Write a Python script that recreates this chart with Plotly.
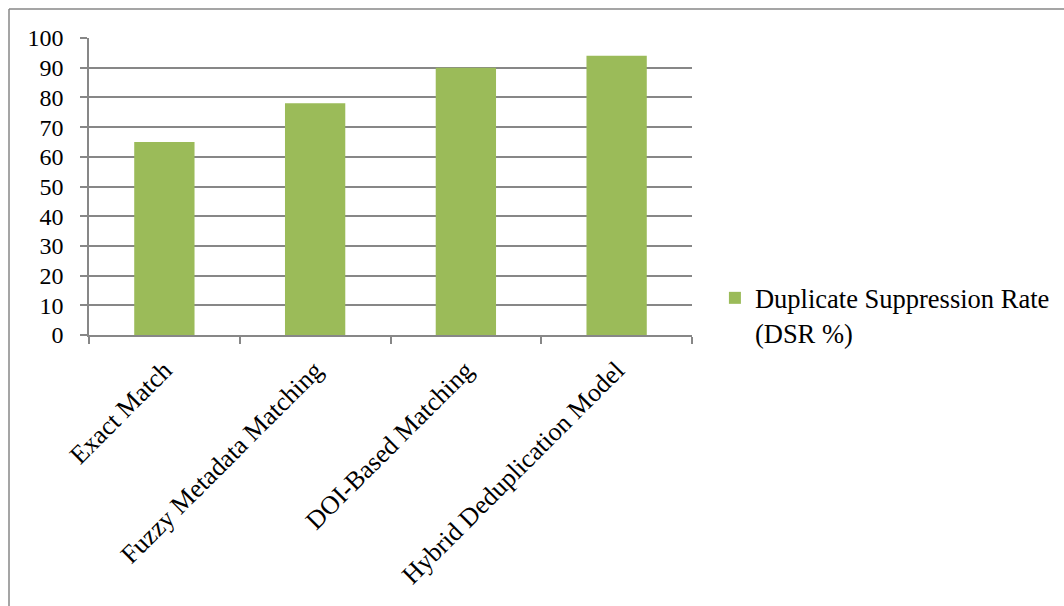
import plotly.graph_objects as go

# Duplicate suppression rate by deduplication strategy
methods = ["Exact Match", "Fuzzy Metadata Matching", "DOI-Based Matching", "Hybrid Deduplication Model"]
dsr_values = [65, 78, 90, 94]
series_name = "Duplicate Suppression Rate<br>(DSR %)"

BAR_GREEN = "#9bbb59"
AXIS_GRAY = "#878787"
FONT = "Liberation Serif, Times New Roman, serif"

fig = go.Figure()
fig.add_trace(go.Bar(
    x=methods,
    y=dsr_values,
    name=series_name,
    marker=dict(color=BAR_GREEN, line=dict(width=0)),
    width=0.4,
    showlegend=True,
))

W, H = 1064, 606
ml, mt, pw, ph = 89, 38, 603, 297

fig.update_layout(
    width=W, height=H,
    margin=dict(l=ml, r=W - ml - pw, t=mt, b=H - mt - ph, autoexpand=False),
    paper_bgcolor="white",
    plot_bgcolor="white",
    font=dict(family=FONT, size=24, color="black"),
    bargap=0.6,
    showlegend=True,
    legend=dict(
        x=1.038, y=0.205, xanchor="left", yanchor="top",
        font=dict(family=FONT, size=26.5, color="black"),
        valign="top",
        itemwidth=30,
        bgcolor="rgba(0,0,0,0)",
    ),
    xaxis=dict(
        type="category",
        tickson="boundaries",
        ticks="outside", ticklen=7, tickwidth=1.5, tickcolor=AXIS_GRAY,
        showline=True, linecolor=AXIS_GRAY, linewidth=1.5,
        showgrid=False,
        tickangle=-45,
        ticklabelstandoff=8,
        tickfont=dict(family=FONT, size=26, color="black"),
    ),
    yaxis=dict(
        range=[0, 100],
        tickvals=[0, 10, 20, 30, 40, 50, 60, 70, 80, 90, 100],
        ticks="outside", ticklen=7, tickwidth=1.5, tickcolor=AXIS_GRAY,
        showline=True, linecolor=AXIS_GRAY, linewidth=1.5,
        showgrid=True, gridcolor=AXIS_GRAY, gridwidth=1.5,
        zeroline=False,
        ticklabelstandoff=12,
        tickfont=dict(family=FONT, size=24, color="black"),
    ),
    shapes=[
        # outer chart frame (top and left edges)
        dict(type="line", xref="paper", yref="paper",
             x0=(9 - ml) / pw, x1=(W + 20 - ml) / pw,
             y0=(mt + ph - 9) / ph, y1=(mt + ph - 9) / ph,
             line=dict(color=AXIS_GRAY, width=1.5)),
        dict(type="line", xref="paper", yref="paper",
             x0=(9 - ml) / pw, x1=(9 - ml) / pw,
             y0=(mt + ph - 9) / ph, y1=(mt + ph - H - 20) / ph,
             line=dict(color=AXIS_GRAY, width=1.5)),
    ],
)

fig.write_html("out.html")
